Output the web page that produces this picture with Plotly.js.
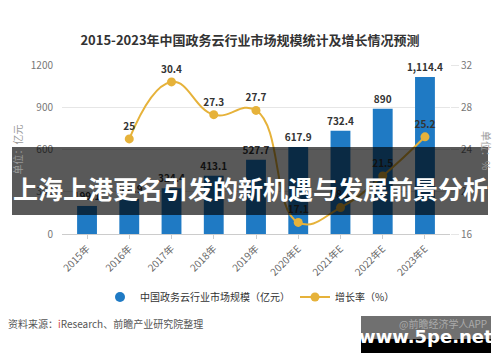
<!DOCTYPE html>
<html>
<head>
<meta charset="utf-8">
<script src="https://cdn.plot.ly/plotly-3.0.1.min.js"></script>
<style>html,body{margin:0;padding:0;background:#fff;}#chart{width:500px;height:362px;}</style>
</head>
<body>
<div id="chart"></div>
<script>
const categories = ['2015年','2016年','2017年','2018年','2019年','2020年E','2021年E','2022年E','2023年E'];
const marketSize = [199.1, 248.9, 324.4, 413.1, 527.7, 617.9, 732.4, 890, 1114.4];
const growthRate = [null, 25, 30.4, 27.3, 27.7, 17.1, 18.5, 21.5, 25.2];
const leftTicks = [0, 300, 600, 900, 1200];
const rightTicks = [16, 20, 24, 28, 32];

const W = 500, H = 362;
const M = {l: 62, r: 50, t: 65, b: 128, autoexpand: false};
const PW = W - M.l - M.r, PH = H - M.t - M.b;
const px = x => (x - M.l) / PW;
const py = y => (H - M.b - y) / PH;

const FONT = '"Noto Sans CJK SC", "Noto Sans", sans-serif';
const BLUE = '#1f7ac4';
const GOLD = '#e6b23a';

const traces = [
  {
    type: 'bar', x: categories, y: marketSize, name: '中国政务云行业市场规模（亿元）',
    marker: {color: BLUE}, showlegend: false,
    texttemplate: '<b>%{y:,}</b>', textposition: 'outside', cliponaxis: false,
    constraintext: 'none',
    textfont: {size: 10, color: '#333', family: FONT}
  },
  {
    type: 'scatter', mode: 'markers', x: [null], y: [null], name: '中国政务云行业市场规模（亿元）',
    marker: {color: BLUE, size: 10, symbol: 'circle'}, showlegend: true
  },
  {
    type: 'scatter', mode: 'lines+markers+text', x: categories, y: growthRate, yaxis: 'y2',
    name: '增长率（%）', line: {color: GOLD, width: 2, shape: 'spline', smoothing: 1.3},
    marker: {color: GOLD, size: 9}, connectgaps: false,
    text: growthRate.map(v => v === null ? '' : '<b>' + v + '</b>'),
    textposition: 'top center', cliponaxis: false,
    textfont: {size: 10, color: '#333', family: FONT}
  }
];

const layout = {
  width: W, height: H,
  margin: M,
  paper_bgcolor: '#fff', plot_bgcolor: '#fff',
  font: {family: FONT, color: '#666', size: 10},
  title: {text: '<b>2015-2023年中国政务云行业市场规模统计及增长情况预测</b>',
          x: 0.5, xanchor: 'center', y: 1 - 40 / H, yanchor: 'middle', yref: 'container',
          font: {size: 13, color: '#333', family: FONT}},
  bargap: 0.53,
  xaxis: {
    tickangle: -45, tickfont: {size: 10, color: '#666'},
    showline: true, linecolor: '#ccc', ticks: 'outside', ticklen: 4, tickcolor: '#ccc',
    showgrid: false, automargin: false
  },
  yaxis: {
    range: [0, 1200], tickvals: leftTicks, ticktext: leftTicks.map(String),
    gridcolor: '#e6e6e6', zeroline: false, tickfont: {size: 10, color: '#777'},
    ticks: 'outside', ticklen: 6, tickcolor: '#fff', automargin: false,
    title: {text: '单位：亿元', font: {size: 10, color: '#999'}, standoff: 6}
  },
  yaxis2: {
    range: [16, 32], tickvals: rightTicks, overlaying: 'y', side: 'right',
    showgrid: false, zeroline: false, tickfont: {size: 10, color: '#777'},
    ticks: 'outside', ticklen: 8, tickcolor: '#e6e6e6', automargin: false
  },
  legend: {
    orientation: 'h', x: px(250), xanchor: 'center',
    y: py(297), yanchor: 'middle',
    font: {size: 10, color: '#333', family: FONT}
  },
  shapes: [
    {type: 'rect', xref: 'paper', yref: 'paper', x0: px(12), x1: px(488), y0: py(147), y1: py(215),
     fillcolor: 'rgba(0,0,0,0.65)', line: {width: 0}, layer: 'above'},
    {type: 'rect', xref: 'paper', yref: 'paper', x0: px(361), x1: px(491), y0: py(316), y1: py(339),
     fillcolor: '#707070', line: {width: 0}, layer: 'above'},
    {type: 'rect', xref: 'paper', yref: 'paper', x0: px(361), x1: px(491), y0: py(339), y1: py(353),
     fillcolor: '#000', line: {width: 0}, layer: 'above'}
  ],
  annotations: [
    {text: '<b>上海上港更名引发的新机遇与发展前景分析</b>', xref: 'paper', yref: 'paper',
     x: px(250), y: py(188), xanchor: 'center', yanchor: 'middle', showarrow: false,
     font: {size: 25, color: '#fff', family: FONT}},
    {text: '单位：%', xref: 'paper', yref: 'paper', x: px(487), y: py(150),
     xanchor: 'center', yanchor: 'middle', showarrow: false, textangle: 90,
     font: {size: 10, color: '#999', family: FONT}},
    {text: '资料来源：<span style="color:#d04a4a">i</span>Research、前瞻产业研究院整理', xref: 'paper', yref: 'paper',
     x: px(6), y: py(323), xanchor: 'left', yanchor: 'middle', showarrow: false,
     font: {size: 10, color: '#555', family: FONT}},
    {text: '@前瞻经济学人APP', xref: 'paper', yref: 'paper',
     x: px(397), y: py(323), xanchor: 'left', yanchor: 'middle', showarrow: false,
     font: {size: 10, color: '#aaa', family: FONT}},
    {text: '<b>www.5pe.net</b>', xref: 'paper', yref: 'paper',
     x: px(426), y: py(336), xanchor: 'center', yanchor: 'middle', showarrow: false,
     font: {size: 18, color: '#fff', family: '"DejaVu Sans", sans-serif'}}
  ]
};

Plotly.newPlot('chart', traces, layout, {displayModeBar: false, staticPlot: true});
</script>
</body>
</html>
